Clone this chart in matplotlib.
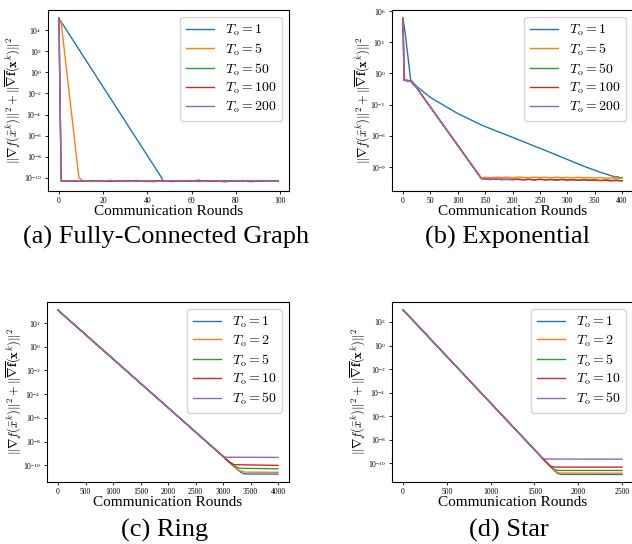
import numpy as np
import matplotlib
matplotlib.use('Agg')
import matplotlib.pyplot as plt
from matplotlib.ticker import NullLocator

plt.rcParams['mathtext.fontset'] = 'cm'
plt.rcParams['font.family'] = 'serif'
plt.rcParams['font.serif'] = ['Liberation Serif', 'DejaVu Serif']

# (a) Fully-Connected Graph, T_o = 1, 5, 50, 100, 200
a_labels = ['1', '5', '50', '100', '200']
a_floor_x = [3, 7, 11, 15, 19, 23, 27, 31, 35, 39, 43, 47, 51, 55, 59, 63, 67,
             71, 75, 79, 83, 87, 91, 95, 99]
a_x_t1 = [0, 1, 46] + a_floor_x[11:]
a_y_t1 = [1.3e5, 6.0e4, 1.4e-10,
          5.2e-11, 4.6e-11, 5.5e-11, 4.9e-11, 5.8e-11, 4.7e-11, 5.1e-11,
          4.5e-11, 5.6e-11, 5.0e-11, 4.4e-11, 5.7e-11, 4.8e-11, 5.3e-11]
a_x_t5 = [0, 1, 9] + a_floor_x[2:]
a_y_t5 = [1.3e5, 5.0e4, 1.1e-10,
          4.8e-11, 5.4e-11, 4.5e-11, 5.7e-11, 5.0e-11, 4.6e-11, 5.5e-11,
          4.9e-11, 4.3e-11, 5.6e-11, 5.1e-11, 4.7e-11, 5.8e-11, 4.5e-11,
          5.3e-11, 4.9e-11, 4.4e-11, 5.5e-11, 5.0e-11, 4.6e-11, 5.4e-11,
          4.8e-11, 5.2e-11]
a_x_t50 = [0, 1] + a_floor_x
a_y_t50 = [1.3e5, 5.5e-11,
           4.9e-11, 5.3e-11, 4.6e-11, 5.6e-11, 5.0e-11, 4.7e-11, 5.4e-11,
           4.8e-11, 5.7e-11, 4.5e-11, 5.2e-11, 4.9e-11, 5.5e-11, 4.6e-11,
           5.1e-11, 5.8e-11, 4.7e-11, 5.3e-11, 4.5e-11, 5.0e-11, 5.6e-11,
           4.8e-11, 5.2e-11, 4.6e-11, 5.4e-11]
a_x_t100 = [0, 1] + a_floor_x
a_y_t100 = [1.3e5, 5.0e-11,
            5.4e-11, 4.7e-11, 5.1e-11, 4.8e-11, 5.5e-11, 4.6e-11, 5.0e-11,
            5.6e-11, 4.7e-11, 5.3e-11, 4.9e-11, 5.5e-11, 4.6e-11, 5.2e-11,
            4.8e-11, 5.0e-11, 5.5e-11, 4.7e-11, 5.3e-11, 4.9e-11, 4.6e-11,
            5.4e-11, 4.8e-11, 5.1e-11, 5.0e-11]
a_x_t200 = [0, 1] + a_floor_x
a_y_t200 = [1.3e5, 5.3e-11,
            4.8e-11, 5.5e-11, 5.0e-11, 4.6e-11, 5.3e-11, 5.7e-11, 4.8e-11,
            5.1e-11, 4.6e-11, 5.4e-11, 5.0e-11, 4.7e-11, 5.6e-11, 4.9e-11,
            5.3e-11, 4.6e-11, 5.1e-11, 5.5e-11, 4.8e-11, 5.2e-11, 4.7e-11,
            5.6e-11, 5.0e-11, 4.8e-11, 5.3e-11]

# (b) Exponential, T_o = 1, 5, 50, 100, 200
b_labels = ['1', '5', '50', '100', '200']
b_floor_x = [150, 160, 170, 180, 190, 200, 210, 220, 230, 240, 250, 260, 270,
             280, 290, 300, 310, 320, 330, 340, 350, 360, 370, 380, 390, 400]
b_x_t1 = [0, 4, 14, 24, 50, 100, 145, 206, 267, 327, 360, 388, 392, 396, 400]
b_y_t1 = [2.0e5, 8.0e3, 0.25, 6.3e-2, 5.0e-3, 1.4e-4, 1.0e-5, 5.4e-7, 2.8e-8,
          1.4e-9, 3.2e-10, 1.1e-10, 1.2e-10, 9.0e-11, 1.0e-10]
b_x_t5 = [0, 3, 14, 24, 143] + b_floor_x
b_y_t5 = [2.0e5, 0.28, 0.19, 5.0e-2, 9.0e-11,
          1.05e-10, 9.5e-11, 1.1e-10, 9.8e-11, 1.08e-10, 9.2e-11, 1.12e-10,
          1.0e-10, 9.4e-11, 1.1e-10, 9.6e-11, 1.05e-10, 9.1e-11, 1.07e-10,
          9.5e-11, 1.02e-10, 8.9e-11, 1.04e-10, 9.3e-11, 9.8e-11, 8.8e-11,
          9.6e-11, 8.5e-11, 9.0e-11, 8.3e-11, 8.7e-11]
b_x_t50 = [0, 2, 14, 24, 143] + b_floor_x
b_y_t50 = [2.0e5, 0.22, 0.18, 5.0e-2, 8.0e-11,
           7.0e-11, 6.2e-11, 7.5e-11, 6.0e-11, 6.8e-11, 5.8e-11, 7.2e-11,
           6.1e-11, 6.6e-11, 5.6e-11, 7.0e-11, 6.0e-11, 6.5e-11, 5.5e-11,
           6.8e-11, 5.9e-11, 6.3e-11, 5.4e-11, 6.6e-11, 5.7e-11, 6.0e-11,
           5.2e-11, 5.9e-11, 5.3e-11, 5.6e-11, 5.0e-11]
b_x_t100 = [0, 2, 14, 24, 143] + b_floor_x
b_y_t100 = [2.0e5, 0.22, 0.18, 5.0e-2, 8.0e-11,
            6.8e-11, 7.2e-11, 6.4e-11, 7.0e-11, 6.2e-11, 6.9e-11, 6.5e-11,
            6.0e-11, 6.7e-11, 6.1e-11, 6.4e-11, 5.8e-11, 6.3e-11, 5.9e-11,
            6.1e-11, 5.6e-11, 6.0e-11, 5.5e-11, 5.8e-11, 5.3e-11, 5.5e-11,
            5.0e-11, 5.2e-11, 4.7e-11, 5.0e-11, 4.6e-11]
b_x_t200 = [0, 2, 14, 24, 143, 150, 160, 170, 180, 190, 200]
b_y_t200 = [2.0e5, 0.22, 0.18, 5.0e-2, 8.0e-11,
            7.0e-11, 6.6e-11, 7.2e-11, 6.4e-11, 6.9e-11, 6.5e-11]

# (c) Ring, T_o = 1, 2, 5, 10, 50
c_labels = ['1', '2', '5', '10', '50']
c_x_t1 = [0, 3000, 3200, 3300, 3350, 3400, 4000]
c_y_t1 = [1.2e3, 5.8e-10, 7.9e-11, 3.2e-11, 2.2e-11, 1.9e-11, 1.85e-11]
c_x_t2 = [0, 3000, 3200, 3300, 3400, 4000]
c_y_t2 = [1.2e3, 5.8e-10, 8.5e-11, 3.6e-11, 2.7e-11, 2.6e-11]
c_x_t5 = [0, 3000, 3100, 3200, 3300, 4000]
c_y_t5 = [1.2e3, 5.8e-10, 2.0e-10, 9.0e-11, 5.6e-11, 5.2e-11]
c_x_t10 = [0, 3000, 3100, 3200, 4000]
c_y_t10 = [1.2e3, 5.8e-10, 2.2e-10, 1.15e-10, 1.0e-10]
c_x_t50 = [0, 2950, 3000, 3050, 4000]
c_y_t50 = [1.2e3, 9.3e-10, 6.0e-10, 4.9e-10, 4.7e-10]

# (d) Star, T_o = 1, 2, 5, 10, 50
d_labels = ['1', '2', '5', '10', '50']
d_x_t1 = [0, 1600, 1700, 1760, 1800, 2500]
d_y_t1 = [1.1e3, 2.3e-10, 3.8e-11, 1.4e-11, 1.12e-11, 1.1e-11]
d_x_t2 = [0, 1600, 1700, 1750, 1790, 2500]
d_y_t2 = [1.1e3, 2.3e-10, 4.0e-11, 1.8e-11, 1.45e-11, 1.4e-11]
d_x_t5 = [0, 1600, 1680, 1730, 1780, 2500]
d_y_t5 = [1.1e3, 2.3e-10, 5.6e-11, 2.8e-11, 2.4e-11, 2.4e-11]
d_x_t10 = [0, 1600, 1660, 1700, 1750, 2500]
d_y_t10 = [1.1e3, 2.3e-10, 7.9e-11, 5.0e-11, 4.6e-11, 4.6e-11]
d_x_t50 = [0, 1580, 1620, 2500]
d_y_t50 = [1.1e3, 3.2e-10, 2.25e-10, 2.2e-10]

panels = [
    ('(a) Fully-Connected Graph', a_labels,
     [(a_x_t1, a_y_t1), (a_x_t5, a_y_t5), (a_x_t50, a_y_t50),
      (a_x_t100, a_y_t100), (a_x_t200, a_y_t200)]),
    ('(b) Exponential', b_labels,
     [(b_x_t1, b_y_t1), (b_x_t5, b_y_t5), (b_x_t50, b_y_t50),
      (b_x_t100, b_y_t100), (b_x_t200, b_y_t200)]),
    ('(c) Ring', c_labels,
     [(c_x_t1, c_y_t1), (c_x_t2, c_y_t2), (c_x_t5, c_y_t5),
      (c_x_t10, c_y_t10), (c_x_t50, c_y_t50)]),
    ('(d) Star', d_labels,
     [(d_x_t1, d_y_t1), (d_x_t2, d_y_t2), (d_x_t5, d_y_t5),
      (d_x_t10, d_y_t10), (d_x_t50, d_y_t50)]),
]

W, H = 632, 544
# axes boxes in pixels: left, top, right, bottom
boxes = [(48, 10, 289, 191), (392, 10, 633, 191),
         (47, 302, 289, 482), (392, 302, 633, 482)]
ylims = [(-11.24, 5.9), (-11.3, 6.1), (-11.4, 3.77), (-11.6, 3.7)]
yticks = [[1e-10, 1e-8, 1e-6, 1e-4, 1e-2, 1e0, 1e2, 1e4],
          [1e-9, 1e-6, 1e-3, 1e0, 1e3, 1e6],
          [1e-10, 1e-8, 1e-6, 1e-4, 1e-2, 1e0, 1e2],
          [1e-10, 1e-8, 1e-6, 1e-4, 1e-2, 1e0, 1e2]]
xticks = [[0, 20, 40, 60, 80, 100],
          [0, 50, 100, 150, 200, 250, 300, 350, 400],
          [0, 500, 1000, 1500, 2000, 2500, 3000, 3500, 4000],
          [0, 500, 1000, 1500, 2000, 2500]]
xlims = [(-4.95, 103.95), (-20, 420), (-200, 4200), (-125, 2625)]
ylab_x = [-0.108, -0.083, -0.099, -0.104]
cap_pos = [(166, 237), (508, 237), (165, 530), (509, 530)]

ylabel = r'$\|\nabla f(\bar{x}^k)\|^2+\|\overline{\nabla \mathbf{f}}(\mathbf{x}^k)\|^2$'

fig = plt.figure(figsize=(W / 100, H / 100), dpi=100)
for i, (cap, labels, series) in enumerate(panels):
    l, t, r, b = boxes[i]
    ax = fig.add_axes([l / W, (H - b) / H, (r - l) / W, (b - t) / H])
    for j, (xs, ys) in enumerate(series):
        ax.plot(xs, ys, color='C%d' % j, lw=1.0,
                label=r'$T_\mathrm{o} = %s$' % labels[j])
    ax.set_yscale('log')
    ax.set_ylim(10 ** ylims[i][0], 10 ** ylims[i][1])
    ax.set_xlim(*xlims[i])
    ax.set_yticks(yticks[i])
    ax.set_xticks(xticks[i])
    ax.yaxis.set_minor_locator(NullLocator())
    ax.tick_params(labelsize=5.5, length=2.5, width=0.6, pad=2)
    ax.set_ylabel(ylabel, fontsize=9)
    ax.yaxis.set_label_coords(ylab_x[i], 0.5)
    ax.set_xlabel('Communication Rounds', fontsize=11)
    ax.xaxis.set_label_coords(0.5, -0.08)
    ax.legend(loc='upper right', fontsize=10, labelspacing=0.25)
    fig.text(cap_pos[i][0] / W, 1 - cap_pos[i][1] / H, cap,
             ha='center', va='center', fontsize=19)

fig.savefig('out.png', dpi=100)
